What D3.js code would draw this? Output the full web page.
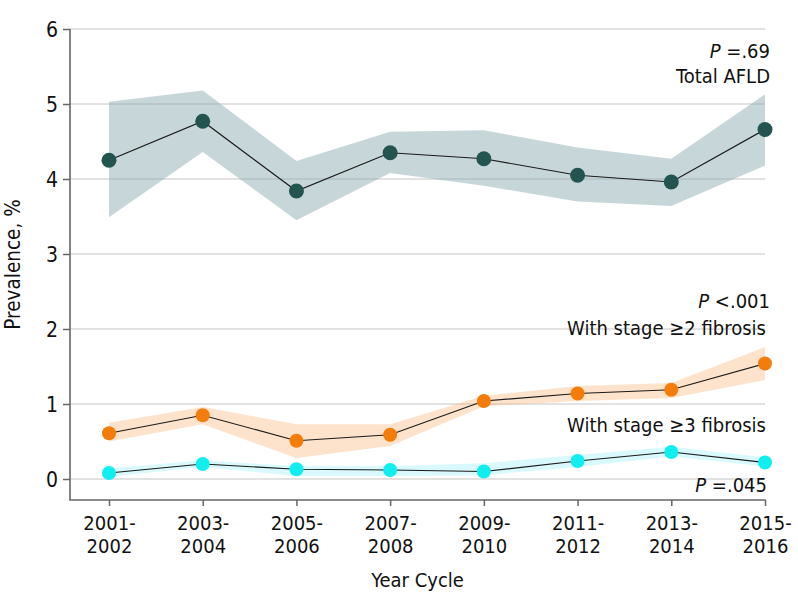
<!DOCTYPE html>
<html>
<head>
<meta charset="utf-8">
<script src="https://cdn.jsdelivr.net/npm/d3@7"></script>
<style>
html,body{margin:0;padding:0;background:#fff;}
svg text{font-family:"DejaVu Sans Condensed","DejaVu Sans",sans-serif;font-stretch:condensed;fill:#111;}
</style>
</head>
<body>
<svg id="chart" width="798" height="609"></svg>
<script>
const categories = ["2001-2002","2003-2004","2005-2006","2007-2008","2009-2010","2011-2012","2013-2014","2015-2016"];
const totalAFLD      = [4.25, 4.77, 3.84, 4.35, 4.27, 4.05, 3.96, 4.66];
const totalUpper     = [5.03, 5.18, 4.24, 4.63, 4.65, 4.42, 4.27, 5.13];
const totalLower     = [3.49, 4.36, 3.45, 4.08, 3.91, 3.70, 3.64, 4.18];
const stage2         = [0.61, 0.85, 0.51, 0.59, 1.04, 1.14, 1.19, 1.54];
const stage2Upper    = [0.75, 0.96, 0.73, 0.73, 1.11, 1.24, 1.28, 1.76];
const stage2Lower    = [0.50, 0.73, 0.28, 0.44, 0.97, 1.04, 1.08, 1.32];
const stage3         = [0.08, 0.20, 0.13, 0.12, 0.10, 0.24, 0.36, 0.22];
const stage3Upper    = [0.14, 0.25, 0.17, 0.17, 0.21, 0.32, 0.43, 0.29];
const stage3Lower    = [0.03, 0.16, 0.04, 0.04, 0.05, 0.16, 0.30, 0.17];
const yTicks = [0, 1, 2, 3, 4, 5, 6];
const yDomain = [-0.28, 6];

const svg = d3.select("#chart");
const axisLeftX = 70, plotTop = 29, plotBottom = 500, plotRight = 765;
const x = d3.scalePoint().domain(categories).range([109, plotRight]);
const y = d3.scaleLinear().domain(yDomain).range([plotBottom, plotTop]);

// gridlines
svg.append("g").selectAll("line").data(yTicks).join("line")
  .attr("x1", axisLeftX).attr("x2", plotRight)
  .attr("y1", d => y(d)).attr("y2", d => y(d))
  .attr("stroke", "#d9d9d9").attr("stroke-width", 1.6);

const series = [
  {v: totalAFLD, hi: totalUpper, lo: totalLower, band: "#8aa9b0", bandOp: 0.48, dot: "#235450", r: 7.5},
  {v: stage2, hi: stage2Upper, lo: stage2Lower, band: "#f9b57a", bandOp: 0.38, dot: "#f47c0a", r: 7},
  {v: stage3, hi: stage3Upper, lo: stage3Lower, band: "#9beef8", bandOp: 0.38, dot: "#11eef0", r: 7}
];

const area = d3.area().x(d => x(d.c)).y0(d => y(d.lo)).y1(d => y(d.hi));
const line = d3.line().x(d => x(d.c)).y(d => y(d.v));

series.forEach(s => {
  const pts = categories.map((c, i) => ({c, v: s.v[i], hi: s.hi[i], lo: s.lo[i]}));
  svg.append("path").datum(pts).attr("d", area)
    .attr("fill", s.band).attr("fill-opacity", s.bandOp);
  s.pts = pts;
});
series.forEach(s => {
  svg.append("path").datum(s.pts).attr("d", line)
    .attr("fill", "none").attr("stroke", "#1a1a1a").attr("stroke-width", 1.2);
  svg.append("g").selectAll("circle").data(s.pts).join("circle")
    .attr("cx", d => x(d.c)).attr("cy", d => y(d.v)).attr("r", s.r)
    .attr("fill", s.dot);
});

// axes
const yAxis = d3.axisLeft(y).tickValues(yTicks).tickSize(7).tickSizeOuter(0).tickFormat(d3.format("d"));
const gy = svg.append("g").attr("transform", `translate(${axisLeftX},0)`).call(yAxis);
gy.select(".domain").remove();
gy.selectAll(".tick line").attr("stroke", "#666").attr("stroke-width", 1.5);
gy.selectAll(".tick text").attr("font-size", 21).attr("x", -12).attr("dy", "0.36em")
  .attr("font-family", "DejaVu Sans Condensed, DejaVu Sans, sans-serif").attr("fill", "#111");

const xAxis = d3.axisBottom(x).tickSize(6).tickSizeOuter(0);
const gx = svg.append("g").attr("transform", `translate(0,${plotBottom})`).call(xAxis);
gx.select(".domain").remove();
gx.selectAll(".tick line").attr("stroke", "#666").attr("stroke-width", 1.5);
gx.selectAll(".tick text").each(function(d) {
  const t = d3.select(this);
  const parts = d.split("-");
  t.text(null).attr("font-size", 20).attr("y", 0).attr("dy", null)
    .attr("font-family", "DejaVu Sans Condensed, DejaVu Sans, sans-serif").attr("fill", "#111");
  t.append("tspan").attr("x", 0).attr("y", 30).text(parts[0] + "-");
  t.append("tspan").attr("x", 0).attr("y", 53).text(parts[1]);
});

// axis lines
svg.append("line").attr("x1", axisLeftX).attr("x2", axisLeftX)
  .attr("y1", y(yDomain[1])).attr("y2", y(yDomain[0]))
  .attr("stroke", "#666").attr("stroke-width", 1.6);
svg.append("line").attr("x1", axisLeftX - 0.8).attr("x2", plotRight + 0.8)
  .attr("y1", plotBottom).attr("y2", plotBottom)
  .attr("stroke", "#666").attr("stroke-width", 1.6);

// axis titles
svg.append("text").attr("transform", `translate(20,${(plotTop + plotBottom) / 2}) rotate(-90)`)
  .attr("text-anchor", "middle").attr("font-size", 20.5).text("Prevalence, %");
svg.append("text").attr("x", (axisLeftX + plotRight) / 2).attr("y", 587)
  .attr("text-anchor", "middle").attr("font-size", 20).text("Year Cycle");

// annotations
function pText(xp, yp, rest) {
  const t = svg.append("text").attr("x", xp).attr("y", yp).attr("text-anchor", "end").attr("font-size", 20);
  t.append("tspan").attr("font-style", "italic").text("P");
  t.append("tspan").text(" " + rest);
}
pText(770, 58, "=.69");
svg.append("text").attr("x", 770).attr("y", 83).attr("text-anchor", "end").attr("font-size", 20).text("Total AFLD");
pText(770, 308, "<.001");
svg.append("text").attr("x", 766).attr("y", 335).attr("text-anchor", "end").attr("font-size", 20).text("With stage \u22652 fibrosis");
svg.append("text").attr("x", 766).attr("y", 432).attr("text-anchor", "end").attr("font-size", 20).text("With stage \u22653 fibrosis");
pText(767, 492, "=.045");
</script>
</body>
</html>
